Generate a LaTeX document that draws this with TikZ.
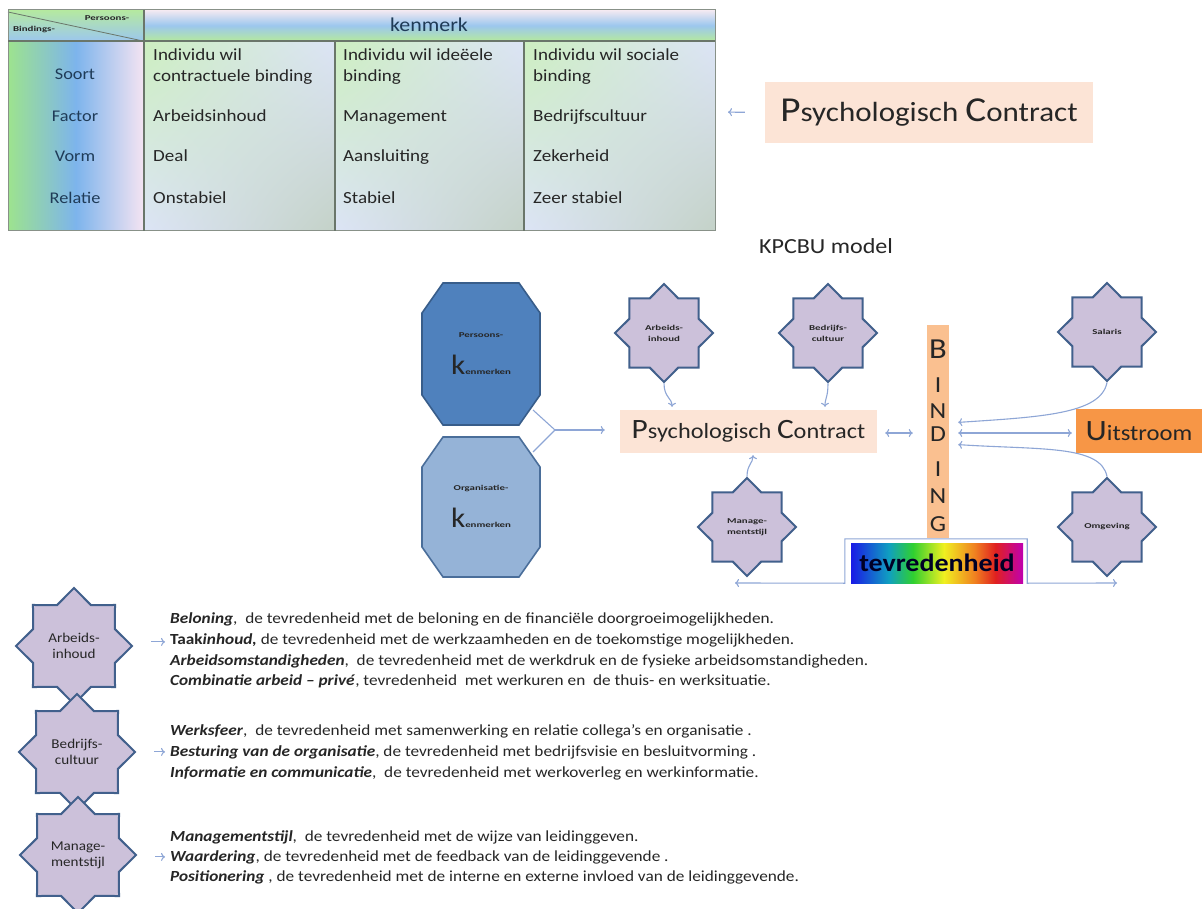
\documentclass[tikz,border=0pt]{standalone}
\usepackage{fontspec}
\setmainfont[FakeStretch=1.12]{Carlito}
\newfontfamily\widefont[FakeStretch=1.45]{Carlito}
\usetikzlibrary{shapes.geometric,arrows.meta,calc,shadings}
\definecolor{connC}{HTML}{8EA6D6}
\definecolor{starF}{HTML}{CCC1DA}
\definecolor{starB}{HTML}{41608C}
\definecolor{octA}{HTML}{4F81BD}
\definecolor{octAB}{HTML}{385D8A}
\definecolor{octB}{HTML}{95B3D7}
\definecolor{octBB}{HTML}{4A6E9A}
\definecolor{peach}{HTML}{FCE4D6}
\definecolor{bindC}{HTML}{FAC090}
\definecolor{uitC}{HTML}{F79646}
\definecolor{txt}{HTML}{262626}
\definecolor{lblC}{HTML}{1F3B57}
\definecolor{tabL}{HTML}{6A766A}
\definecolor{hdrG}{HTML}{B5E99F}
\definecolor{hdrB}{HTML}{9CC7EE}
\definecolor{hdrP}{HTML}{F5EAF2}
\definecolor{colG}{HTML}{9DE38E}
\definecolor{colB}{HTML}{7DB4EC}
\definecolor{colP}{HTML}{F5E4F2}
\definecolor{cellG}{HTML}{CDEFC0}
\definecolor{cellB}{HTML}{DCE4F6}
\definecolor{cellD}{HTML}{C4D2C8}
\definecolor{rb1}{HTML}{1A1AE6}
\definecolor{rb2}{HTML}{10A0C0}
\definecolor{rb3}{HTML}{30D030}
\definecolor{rb4}{HTML}{F0F020}
\definecolor{rb5}{HTML}{F08020}
\definecolor{rb6}{HTML}{E02020}
\definecolor{rb7}{HTML}{C000B0}
\pgfdeclarehorizontalshading{rainbow}{100bp}{color(0bp)=(rb1); color(25bp)=(rb1); color(36bp)=(rb2); color(43bp)=(rb3); color(52bp)=(rb4); color(61bp)=(rb5); color(67bp)=(rb6); color(75bp)=(rb7); color(100bp)=(rb7)}
\newcommand{\fs}[1]{\fontsize{#1}{#1}\selectfont}
\begin{document}
\begin{tikzpicture}[x=1pt,y=-1pt,
  conn/.style={draw=connC, line width=1.1pt},
  arr/.style={conn, -{To[length=4pt,width=8pt]}},
  darr/.style={conn, {To[length=4pt,width=8pt]}-{To[length=4pt,width=8pt]}},
  tabline/.style={draw=tabL, line width=1.4pt},
  lbl/.style={inner sep=0pt, anchor=base, text=lblC, font=\fs{16.3}},
  cell/.style={inner sep=0pt, anchor=base west, text=txt, font=\fs{17}},
  tinyb/.style={inner sep=0pt, text=txt, font=\widefont\fontsize{7.5}{9}\selectfont\bfseries},
  star8/.style={star, star points=8, star point ratio=1.31, draw=starB, fill=starF, line width=2pt, inner sep=0pt, minimum size=#1, align=center, text=txt, line join=miter},
  smallstar/.style={star8=98pt, font=\widefont\fontsize{7.5}{11}\selectfont\bfseries},
  bigstar/.style={star8=116pt, font=\fontsize{13.5}{16}\selectfont},
  pcbox/.style={fill=peach, inner sep=0pt, text=txt},
  desc/.style={anchor=base west, inner sep=0pt, font=\fs{15.4}, text=txt},
  blet/.style={inner sep=0pt, text=txt, font=\fs{23}}
]
\useasboundingbox[fill=white] (0,0) rectangle (1202,909);

% ---------- table ----------
\shade[top color=hdrG, bottom color=hdrB] (8,10) rectangle (144,41);
\shade[top color=hdrP, bottom color=hdrG, middle color=hdrB] (144,10) rectangle (715,41);
\shade[left color=colG, right color=colP, middle color=colB] (8,41) rectangle (144,231);
\shade[upper left=cellG, upper right=cellB, lower left=cellB, lower right=cellD] (144,41) rectangle (335,231);
\shade[upper left=cellG, upper right=cellB, lower left=cellB, lower right=cellD] (335,41) rectangle (524,231);
\shade[upper left=cellG, upper right=cellB, lower left=cellB, lower right=cellD] (524,41) rectangle (715,231);
\draw[draw=tabL, line width=0.8pt] (8,12) -- (143,41);
\draw[draw=tabL!80, line width=1pt] (8,10) rectangle (715,231);
\draw[tabline] (8,41) -- (715,41);
\draw[tabline] (144,10) -- (144,231);
\draw[tabline] (335,41) -- (335,231);
\draw[tabline] (524,41) -- (524,231);
\coordinate (tabE) at (715,112);

\node[tinyb] (hp) at (107,18) {Persoons-};
\node[tinyb] (hb) at (34,30) {Bindings-};
\node[inner sep=0pt, text=lblC, font=\fs{19.6}] (km) at (429,25) {kenmerk};

\node[lbl] (l1) at (75,80) {Soort};
\node[lbl] (l2) at (75,122) {Factor};
\node[lbl] (l3) at (75,162) {Vorm};
\node[lbl] (l4) at (75,204) {Relatie};

\node[cell] (a1) at (153,61) {Individu wil};
\node[cell] (a1b) at (153,82) {contractuele binding};
\node[cell] (a2) at (153,122) {Arbeidsinhoud};
\node[cell] (a3) at (153,162) {Deal};
\node[cell] (a4) at (153,204) {Onstabiel};

\node[cell] (b1) at (343,61) {Individu wil ideëele};
\node[cell] (b1b) at (343,82) {binding};
\node[cell] (b2) at (343,122) {Management};
\node[cell] (b3) at (343,162) {Aansluiting};
\node[cell] (b4) at (343,204) {Stabiel};

\node[cell] (c1) at (533,61) {Individu wil sociale};
\node[cell] (c1b) at (533,82) {binding};
\node[cell] (c2) at (533,122) {Bedrijfscultuur};
\node[cell] (c3) at (533,162) {Zekerheid};
\node[cell] (c4) at (533,204) {Zeer stabiel};

% top-right psychologisch contract
\node[pcbox, minimum width=328pt, minimum height=61pt] (pct) at (929,112.5)
  {{\fs{35}P}{\fs{27.7}sychologisch }{\fs{35}C}{\fs{27.7}ontract}};
\draw[arr, shorten <=20pt, shorten >=13pt] (pct.west) -- (tabE);

\node[inner sep=0pt, text=txt, font=\fs{21.5}] (kp) at (826,246) {KPCBU model};

% ---------- model ----------
\draw[fill=octA, draw=octAB, line width=1.6pt] (443,283) -- (519,283) -- (540,313) -- (540,395) -- (519,425) -- (443,425) -- (422,395) -- (422,313) -- cycle;
\draw[fill=octB, draw=octBB, line width=1.6pt] (443,437) -- (519,437) -- (540,467) -- (540,547) -- (519,577) -- (443,577) -- (422,547) -- (422,467) -- cycle;
\node[tinyb, text=black!85] (pk1) at (481,335) {Persoons-};
\node[inner sep=0pt, text=black!85] (pk2) at (481,365) {{\fs{28}k}{\widefont\fs{7.5}\bfseries enmerken}};
\node[tinyb, text=black!85] (ok1) at (481,488) {Organisatie-};
\node[inner sep=0pt, text=black!85] (ok2) at (481,518) {{\fs{28}k}{\widefont\fs{7.5}\bfseries enmerken}};

\node[pcbox, minimum width=257pt, minimum height=43pt] (pc) at (748.5,431.5)
  {{\fs{28}P}{\fs{21.7}sychologisch }{\fs{28}C}{\fs{21.7}ontract}};

\coordinate (f1) at (533,410);
\coordinate (f2) at (533,452);
\coordinate (fork) at (555,430);
\draw[conn] (f1) -- (fork);
\draw[conn] (f2) -- (fork);
\draw[arr, shorten >=15pt] (fork) -- (fork -| pc.west);

\node[smallstar] (sa) at (664,333) {Arbeids-\\inhoud};
\node[smallstar] (sb) at (828,333) {Bedrijfs-\\cultuur};
\node[smallstar] (sm) at (747,527) {Manage-\\mentstijl};
\node[smallstar] (ss) at (1107,332) {Salaris};
\node[smallstar] (so) at (1107,527) {Omgeving};

\node[fill=bindC, minimum width=22pt, minimum height=213pt, inner sep=0pt] (bind) at (938,431.5) {};
\node[blet, font=\fs{29}] (bB) at (938,349) {B};
\node[blet] (bI1) at (938,385) {I};
\node[blet] (bN1) at (938,411) {N};
\node[blet] (bD) at (938,434) {D};
\node[blet] (bI2) at (938,469) {I};
\node[blet] (bN2) at (938,496) {N};
\node[blet] (bG) at (938,524) {G};

\node[fill=uitC, minimum width=126pt, minimum height=44pt, inner sep=0pt, text=txt] (uit) at (1139,431)
  {{\fs{29.5}U}{\fs{22}itstroom}};

\draw[arr, shorten >=3pt] (sa.south) .. controls +(0,14) and +(0,-12) .. (pc.north -| 672,0);
\draw[arr, shorten >=3pt] (sb.south) .. controls +(0,14) and +(0,-12) .. (pc.north -| 825,0);
\draw[arr, shorten >=2pt] (sm.north) .. controls +(0,-12) and +(0,10) .. (pc.south -| 753,0);
\draw[darr, shorten <=8pt, shorten >=14pt] (pc.east |- 0,433) -- (bind.west |- 0,433);

\draw[arr, shorten >=9pt] (ss.south) .. controls +(-6,32) and +(90,-6) .. (bind.east |- 0,423);
\draw[arr, shorten >=9pt] (so.north) .. controls +(-6,-32) and +(90,6) .. (bind.east |- 0,444);
\draw[darr, shorten <=9pt, shorten >=4pt] (bind.east |- 0,433) -- (uit.west |- 0,433);

\node[shading=rainbow, minimum width=172pt, minimum height=40pt, inner sep=0pt, text=black!85!blue, font=\fs{25}\bfseries] (tev) at (937,563) {tevredenheid};
\coordinate (tl) at (735,583);
\coordinate (tr) at (1117,583);
\draw[darr] (tl) -- ([xshift=-6pt]tev.south west) -- ([xshift=-6pt,yshift=4pt]tev.north west) -- ([xshift=4pt,yshift=4pt]tev.north east) -- ([xshift=4pt]tev.south east) -- (tr);

% ---------- bottom list ----------
\node[bigstar] (s1) at (74,646) {Arbeids-\\inhoud};
\node[bigstar] (s2) at (77,752) {Bedrijfs-\\cultuur};
\node[bigstar] (s3) at (78,855) {Manage-\\mentstijl};

\node[desc] (d1) at (170,623) {\textbf{\textit{Beloning}},\ \ de tevredenheid met de beloning en de financiële doorgroeimogelijkheden.};
\node[desc] (d2) at (170,644) {\textbf{Taak\textit{inhoud,}} de tevredenheid met de werkzaamheden en de toekomstige mogelijkheden.};
\node[desc] (d3) at (170,665) {\textbf{\textit{Arbeidsomstandigheden}},\ \ de tevredenheid met de werkdruk en de fysieke arbeidsomstandigheden.};
\node[desc] (d4) at (170,685) {\textbf{\textit{Combinatie arbeid – privé}}, tevredenheid\ \ met werkuren en\ \ de thuis- en werksituatie.};
\node[desc] (d5) at (170,735) {\textbf{\textit{Werksfeer}},\ \ de tevredenheid met samenwerking en relatie collega’s en organisatie .};
\node[desc] (d6) at (170,756) {\textbf{\textit{Besturing van de organisatie}}, de tevredenheid met bedrijfsvisie en besluitvorming .};
\node[desc] (d7) at (170,777) {\textbf{\textit{Informatie en communicatie}},\ \ de tevredenheid met werkoverleg en werkinformatie.};
\node[desc] (d8) at (170,841) {\textbf{\textit{Managementstijl}},\ \ de tevredenheid met de wijze van leidinggeven.};
\node[desc] (d9) at (170,861) {\textbf{\textit{Waardering}}, de tevredenheid met de feedback van de leidinggevende .};
\node[desc] (d10) at (170,881) {\textbf{\textit{Positionering}} , de tevredenheid met de interne en externe invloed van de leidinggevende.};

\draw[arr, shorten <=18pt, shorten >=5pt] ([yshift=-2pt]d2.west -| s1.east) -- ([yshift=-2pt]d2.west);
\draw[arr, shorten <=18pt, shorten >=5pt] (d6.west -| s2.east) -- (d6.west);
\draw[arr, shorten <=18pt, shorten >=5pt] (d9.west -| s3.east) -- (d9.west);
\end{tikzpicture}
\end{document}
